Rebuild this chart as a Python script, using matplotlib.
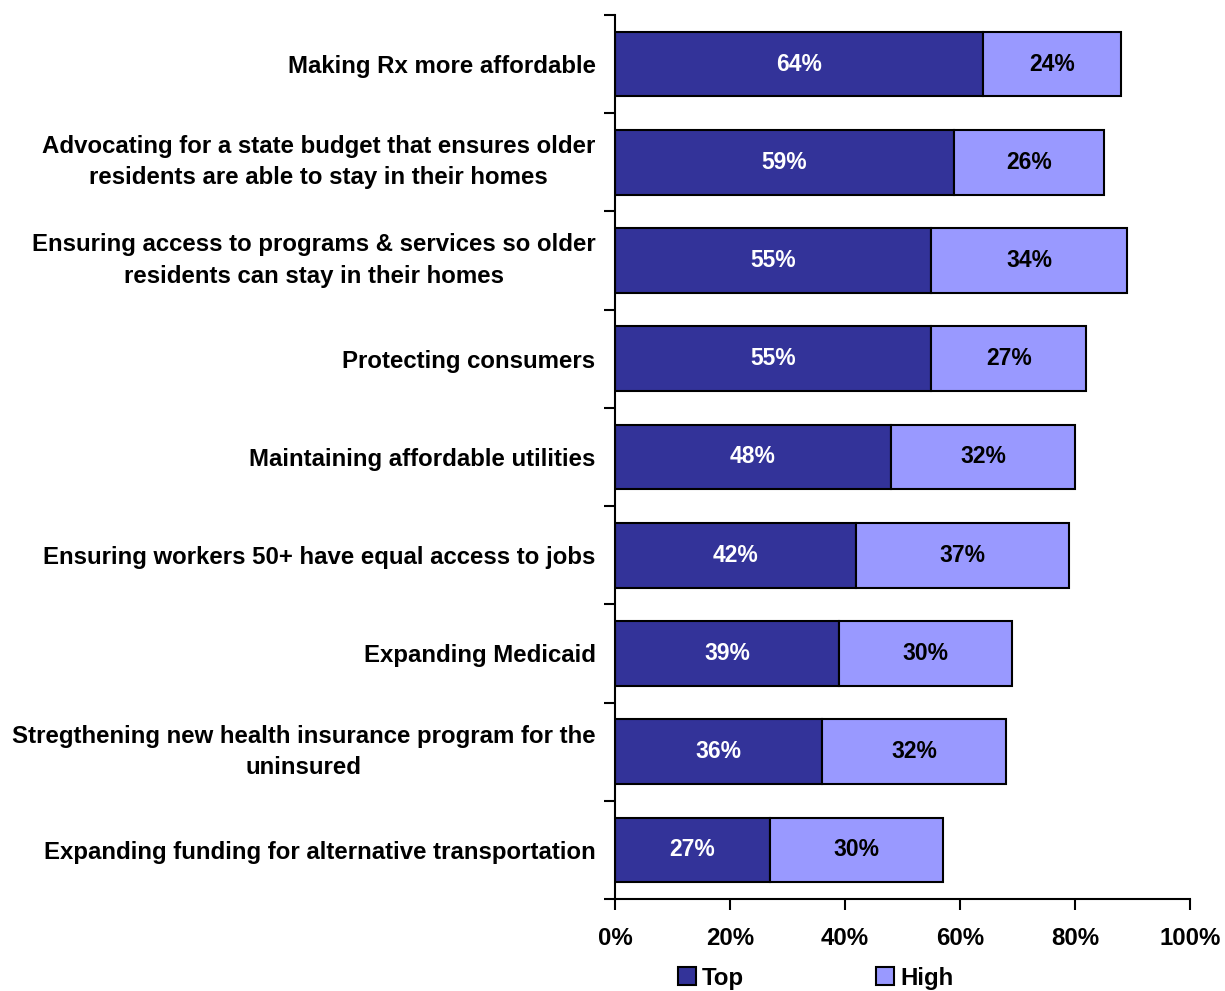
import matplotlib
matplotlib.use("Agg")
import matplotlib.pyplot as plt
import numpy as np

categories = [
    "Making Rx more affordable",
    "Advocating for a state budget that ensures older\nresidents are able to stay in their homes",
    "Ensuring access to programs & services so older\nresidents can stay in their homes",
    "Protecting consumers",
    "Maintaining affordable utilities",
    "Ensuring workers 50+ have equal access to jobs",
    "Expanding Medicaid",
    "Stregthening new health insurance program for the\nuninsured",
    "Expanding funding for alternative transportation",
]
top_vals = [64, 59, 55, 55, 48, 42, 39, 36, 27]
high_vals = [24, 26, 34, 27, 32, 37, 30, 32, 30]
x_ticks = [0, 20, 40, 60, 80, 100]
series_names = ["Top", "High"]

plt.rcParams["font.family"] = ["Liberation Sans", "DejaVu Sans"]
plt.rcParams["font.weight"] = "bold"

fs = 17.3

fig = plt.figure(figsize=(12.25, 9.91), dpi=100)
ax = fig.add_axes([0.502, 0.0928, 0.4694, 0.8921])

n = len(categories)
y = np.arange(n)
h = 0.66
dark = "#333399"
light = "#9999FF"

b1 = ax.barh(y, top_vals, height=h, color=dark, edgecolor="black", linewidth=1.5, label=series_names[0])
b2 = ax.barh(y, high_vals, left=top_vals, height=h, color=light, edgecolor="black", linewidth=1.5, label=series_names[1])

for yi, t, hv in zip(y, top_vals, high_vals):
    ax.text(t / 2, yi, f"{t}%", ha="center", va="center", color="white", fontsize=16.5, fontweight="bold")
    ax.text(t + hv / 2, yi, f"{hv}%", ha="center", va="center", color="black", fontsize=16.5, fontweight="bold")

ax.set_xlim(0, 100)
ax.set_ylim(n - 0.5, -0.5)

ax.set_xticks(x_ticks)
ax.set_xticklabels([f"{v}%" for v in x_ticks], fontsize=fs, fontweight="bold")
ax.tick_params(axis="x", direction="out", length=8, width=1.5, pad=12)

ax.set_yticks(np.arange(-0.5, n, 1.0))
ax.set_yticklabels([])
ax.tick_params(axis="y", which="major", direction="out", length=8, width=1.5)
ax.set_yticks(y, minor=True)
labels = ax.set_yticklabels(categories, minor=True, fontsize=fs, fontweight="bold", ha="right",
                            multialignment="center", linespacing=1.45)
for lbl, name in zip(labels, categories):
    lbl.set_va("center" if "\n" in name else "center_baseline")
ax.tick_params(axis="y", which="minor", length=0, pad=14)

for s in ["top", "right"]:
    ax.spines[s].set_visible(False)
for s in ["left", "bottom"]:
    ax.spines[s].set_linewidth(1.5)

leg = fig.legend(handles=[b1, b2], labels=series_names, loc="center", bbox_to_anchor=(0.666, 0.013),
                 ncol=2, frameon=False, handlelength=0.75, handleheight=0.75,
                 handletextpad=0.25, columnspacing=5.5, prop={"weight": "bold", "size": fs})

fig.savefig("out.png", dpi=100)
